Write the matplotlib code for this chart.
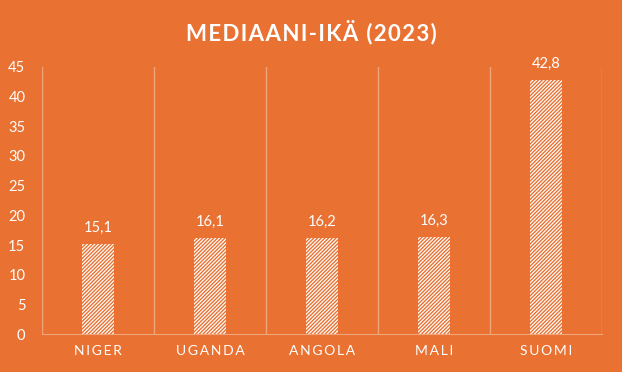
import matplotlib
matplotlib.use("Agg")
import matplotlib.pyplot as plt

# data
countries = ["NIGER", "UGANDA", "ANGOLA", "MALI", "SUOMI"]
ages = [15.1, 16.1, 16.2, 16.3, 42.8]
yticks = [0, 5, 10, 15, 20, 25, 30, 35, 40, 45]

bg = "#E97132"
grid = "#F2A57A"

plt.rcParams["hatch.color"] = bg
plt.rcParams["hatch.linewidth"] = 1.0
plt.rcParams["font.family"] = ["Lato", "DejaVu Sans"]

fig = plt.figure(figsize=(6.22, 3.72), dpi=100, facecolor=bg)
ax = fig.add_axes([0.0675, 0.102, 0.9005, 0.718], facecolor=bg)

x = range(len(countries))
ax.bar(x, ages, width=0.28, color="white", edgecolor="none")
ax.bar(x, ages, width=0.28, color="none", edgecolor=bg, hatch="/////////", linewidth=0)

for xi, v in zip(x, ages):
    ax.text(xi, v + 1.6, f"{v:.1f}".replace(".", ","), ha="center", va="bottom",
            color="white", fontsize=10.5)

ax.set_xlim(-0.5, len(countries) - 0.5)
ax.set_ylim(0, 45)
ax.set_yticks(yticks)
ax.set_yticklabels([str(t) for t in yticks], color="white", fontsize=10.5)
ax.set_xticks(list(x))
ax.set_xticklabels(["\u2009".join(c) for c in countries], color="white", fontsize=10)
ax.tick_params(length=0, pad=8)
ax.tick_params(axis="y", pad=12)

for b in [i - 0.5 for i in range(len(countries) + 1)]:
    ax.axvline(b, color=grid, lw=1, zorder=0)
for s in ["top", "right", "left"]:
    ax.spines[s].set_visible(False)
ax.spines["bottom"].set_color(grid)

fig.text(0.5, 0.915, "\u200a".join("MEDIAANI-IKÄ (2023)"), ha="center", va="center",
         color="white", fontsize=16, fontweight="bold")

fig.savefig("out.png", dpi=100, facecolor=bg)
